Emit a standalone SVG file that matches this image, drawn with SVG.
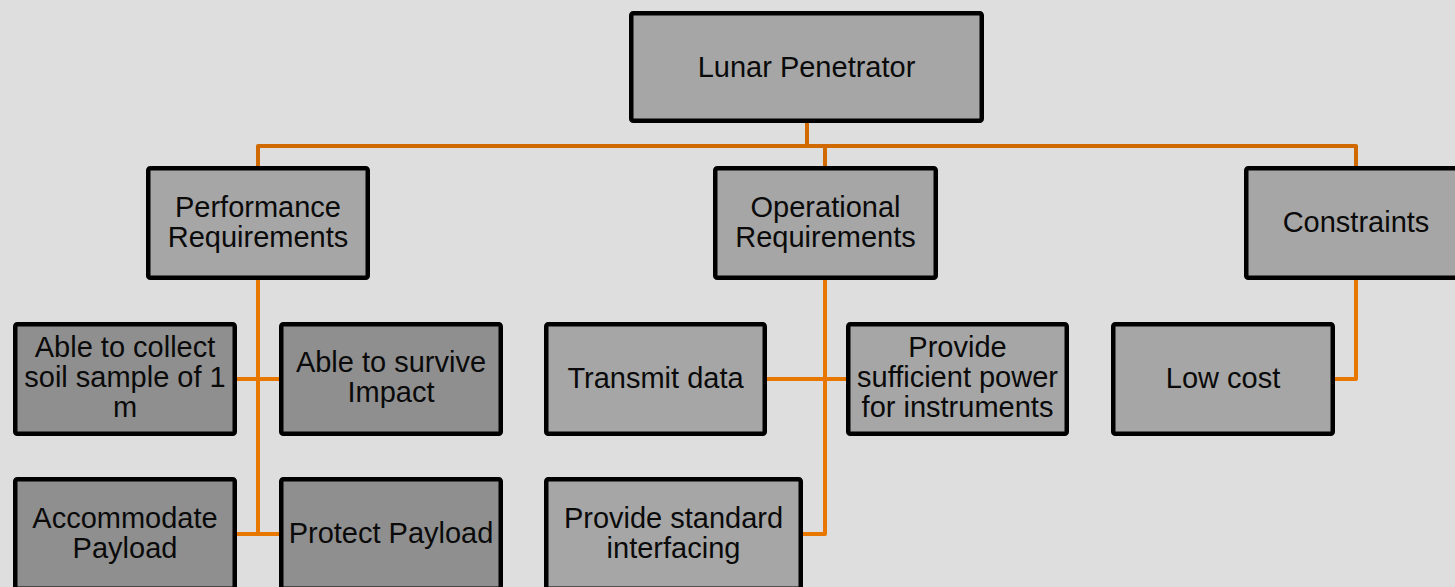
<svg xmlns="http://www.w3.org/2000/svg" width="1455" height="587" viewBox="0 0 1455 587">
  <style>
    .box { stroke: #000; stroke-width: 4.5; }
    .lvl { fill: #a6a6a6; }
    .sub { fill: #8f8f8f; }
    .lbl { font-family: "Liberation Sans", Arial, sans-serif; font-size: 29px; fill: #0a0a0a; text-anchor: middle; }
    .wire { fill: none; stroke-width: 4; stroke-linejoin: round; stroke-linecap: butt; }
    .wire.top { stroke: #d06a00; }
    .wire.low { stroke: #e87700; }
  </style>
  <rect width="1455" height="587" fill="#dedede"/>

  <!-- connectors -->
  <g id="connectors">
    <path class="wire top" d="M807 123 V146"/>
    <path class="wire top" d="M258 166 V146 H1356 V166"/>
    <path class="wire top" d="M825 146 V166"/>
    <!-- performance branch -->
    <path class="wire low" d="M258 280 V534"/>
    <path class="wire low" d="M237 379 H279"/>
    <path class="wire low" d="M237 534 H279"/>
    <!-- operational branch -->
    <path class="wire low" d="M825 280 V534 H803"/>
    <path class="wire low" d="M767 379 H846"/>
    <!-- constraints branch -->
    <path class="wire low" d="M1356 280 V379 H1335"/>
  </g>

  <g id="lunar-penetrator">
    <rect class="box lvl" x="631.25" y="13.25" width="350.5" height="107.5" rx="2"/>
    <text class="lbl" x="806.5" y="77">Lunar Penetrator</text>
  </g>

  <g id="performance-requirements">
    <rect class="box lvl" x="148.25" y="168.25" width="219.5" height="109.5" rx="2"/>
    <text class="lbl" x="258" y="217">Performance</text>
    <text class="lbl" x="258" y="247">Requirements</text>
  </g>

  <g id="operational-requirements">
    <rect class="box lvl" x="715.25" y="168.25" width="220.5" height="109.5" rx="2"/>
    <text class="lbl" x="825.5" y="217">Operational</text>
    <text class="lbl" x="825.5" y="247">Requirements</text>
  </g>

  <g id="constraints">
    <rect class="box lvl" x="1246.25" y="168.25" width="219.5" height="109.5" rx="2"/>
    <text class="lbl" x="1356" y="232">Constraints</text>
  </g>

  <g id="collect-soil">
    <rect class="box sub" x="15.25" y="324.25" width="219.5" height="109.5" rx="2"/>
    <text class="lbl" x="125" y="357">Able to collect</text>
    <text class="lbl" x="125" y="387">soil sample of 1</text>
    <text class="lbl" x="125" y="417">m</text>
  </g>

  <g id="survive-impact">
    <rect class="box sub" x="281.25" y="324.25" width="219.5" height="109.5" rx="2"/>
    <text class="lbl" x="391" y="372">Able to survive</text>
    <text class="lbl" x="391" y="402">Impact</text>
  </g>

  <g id="accommodate-payload">
    <rect class="box sub" x="15.25" y="479.25" width="219.5" height="109.5" rx="2"/>
    <text class="lbl" x="125" y="528">Accommodate</text>
    <text class="lbl" x="125" y="558">Payload</text>
  </g>

  <g id="protect-payload">
    <rect class="box sub" x="281.25" y="479.25" width="219.5" height="109.5" rx="2"/>
    <text class="lbl" x="391" y="543">Protect Payload</text>
  </g>

  <g id="transmit-data">
    <rect class="box lvl" x="546.25" y="324.25" width="218.5" height="109.5" rx="2"/>
    <text class="lbl" x="655.5" y="388">Transmit data</text>
  </g>

  <g id="sufficient-power">
    <rect class="box lvl" x="848.25" y="324.25" width="218.5" height="109.5" rx="2"/>
    <text class="lbl" x="957.5" y="357">Provide</text>
    <text class="lbl" x="957.5" y="387">sufficient power</text>
    <text class="lbl" x="957.5" y="417">for instruments</text>
  </g>

  <g id="standard-interfacing">
    <rect class="box lvl" x="546.25" y="479.25" width="254.5" height="109.5" rx="2"/>
    <text class="lbl" x="673.5" y="528">Provide standard</text>
    <text class="lbl" x="673.5" y="558">interfacing</text>
  </g>

  <g id="low-cost">
    <rect class="box lvl" x="1113.25" y="324.25" width="219.5" height="109.5" rx="2"/>
    <text class="lbl" x="1223" y="388">Low cost</text>
  </g>
</svg>
